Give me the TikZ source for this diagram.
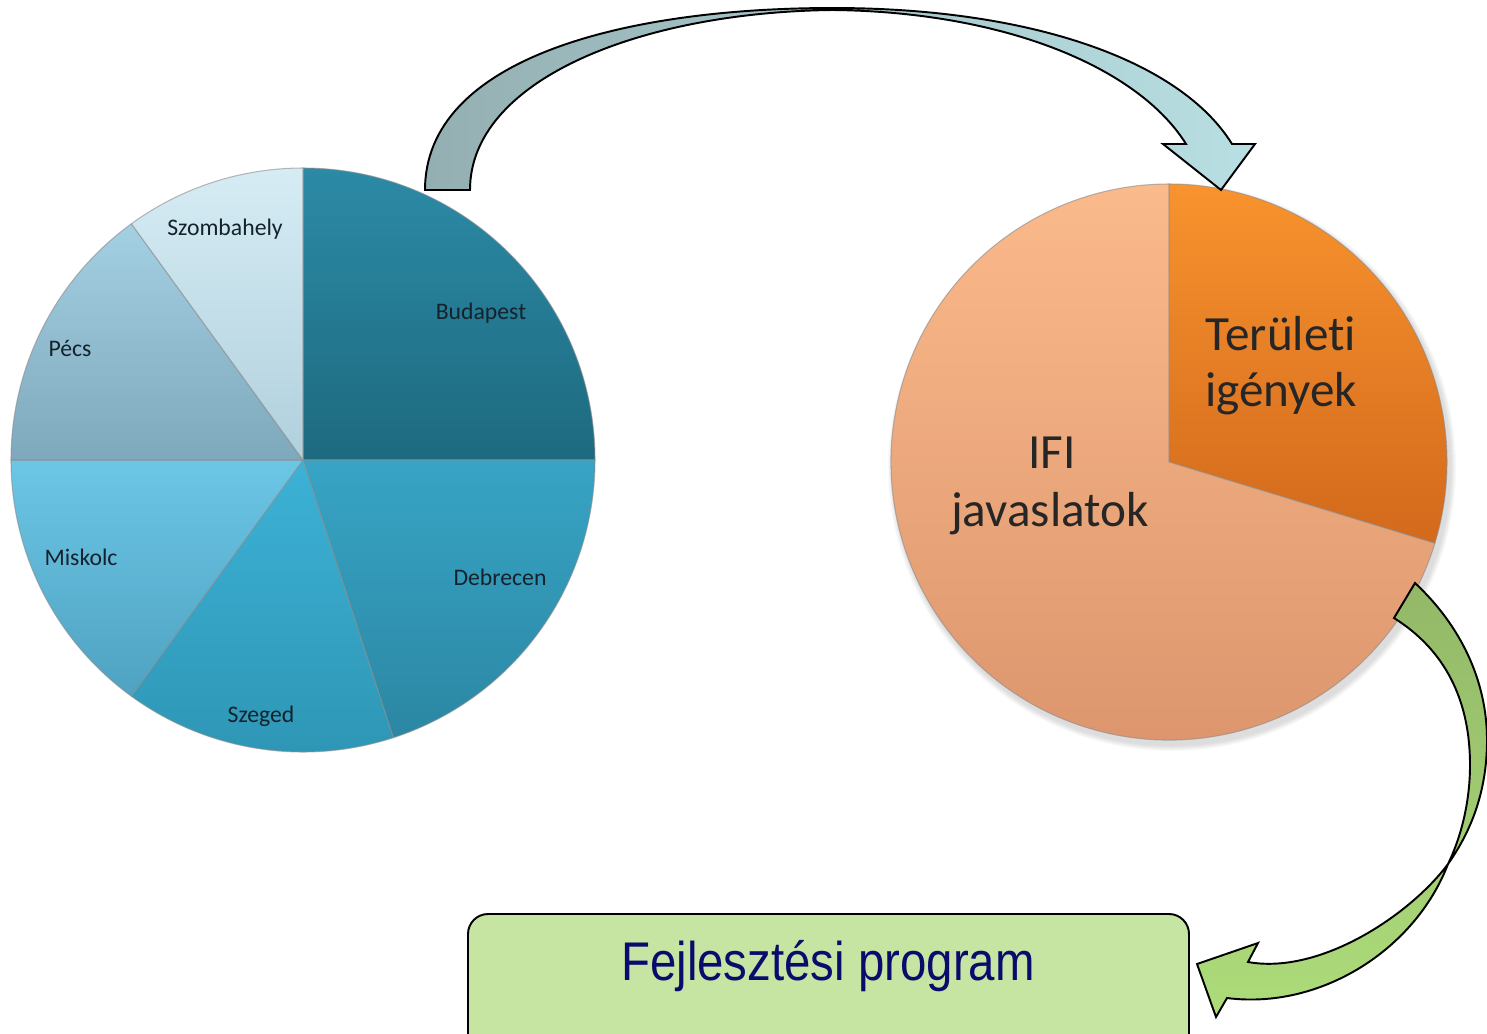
\documentclass[tikz,border=0pt]{standalone}
\usepackage{fontspec}
\setmainfont{Carlito}[Ligatures=NoCommon]
\newfontfamily\boxfont{Liberation Sans}
\definecolor{budatop}{HTML}{2C8AA6}
\definecolor{budabot}{HTML}{1D6A7F}
\definecolor{debrtop}{HTML}{38A4C5}
\definecolor{debrbot}{HTML}{2B87A3}
\definecolor{szegtop}{HTML}{3CB2D6}
\definecolor{szegbot}{HTML}{2E95B4}
\definecolor{misktop}{HTML}{6CC6E6}
\definecolor{miskbot}{HTML}{4FA2C1}
\definecolor{pecstop}{HTML}{A4D0E4}
\definecolor{pecsbot}{HTML}{7EA8BB}
\definecolor{szomtop}{HTML}{D6ECF4}
\definecolor{szombot}{HTML}{B0D0DD}
\definecolor{terutop}{HTML}{F8932E}
\definecolor{terubot}{HTML}{D2691C}
\definecolor{ifitop}{HTML}{FBBA8B}
\definecolor{ifibot}{HTML}{DB946C}
\definecolor{citytext}{HTML}{14222C}
\definecolor{arrowgrey}{HTML}{94AFB2}
\definecolor{arrowcyan}{HTML}{B8DFE3}
\definecolor{greentop}{HTML}{93B868}
\definecolor{greenbot}{HTML}{ADDC7A}
\definecolor{boxgreen}{HTML}{C6E5A3}
\definecolor{boxtext}{HTML}{0B0B6E}
\tikzset{
  slice/.style={draw=black!45, draw opacity=.6, line width=.6pt, line join=round},
  city/.style={text=citytext, font=\fontsize{13.5}{16}\selectfont, anchor=base},
  part/.style={text=black!85, font=\fontsize{28}{34}\selectfont, align=center, anchor=base},
  bandarrow/.style={draw=black, line width=1.1pt, line join=miter},
  progbox/.style={draw=black, line width=1.1pt, rounded corners=4mm, fill=boxgreen},
}
\begin{document}
\begin{tikzpicture}[x=.2mm, y=-.2mm]
	\clip (0,0) rectangle (1487,1033);
	% pie of the cities
	\coordinate (cities) at (303,460);
	\shade[slice, top color=budatop, bottom color=budabot] (cities) -- ++(-90:292) arc[start angle=-90, end angle=0,   radius=292] -- cycle;
	\shade[slice, top color=debrtop, bottom color=debrbot] (cities) -- ++(0:292)   arc[start angle=0,   end angle=72,  radius=292] -- cycle;
	\shade[slice, top color=szegtop, bottom color=szegbot] (cities) -- ++(72:292)  arc[start angle=72,  end angle=126, radius=292] -- cycle;
	\shade[slice, top color=misktop, bottom color=miskbot] (cities) -- ++(126:292) arc[start angle=126, end angle=180, radius=292] -- cycle;
	\shade[slice, top color=pecstop, bottom color=pecsbot] (cities) -- ++(180:292) arc[start angle=180, end angle=234, radius=292] -- cycle;
	\shade[slice, top color=szomtop, bottom color=szombot] (cities) -- ++(234:292) arc[start angle=234, end angle=270, radius=292] -- cycle;
	\node[city] (szombahely) at (225,235) {Szombahely};
	\node[city] (budapest)   at (481,319) {Budapest};
	\node[city] (pecs)       at (70,356)  {Pécs};
	\node[city] (miskolc)    at (81,565)  {Miskolc};
	\node[city] (debrecen)   at (500,585) {Debrecen};
	\node[city] (szeged)     at (261,722) {Szeged};
	% pie of the sources
	\coordinate (sources) at (1169,462);
	\foreach \s in {1,...,6}
		\fill[black, opacity=.025] (1172,467) circle[radius=278+\s];
	\shade[slice, top color=terutop, bottom color=terubot] (sources) -- ++(-90:278) arc[start angle=-90, end angle=17,  radius=278] -- cycle;
	\shade[slice, top color=ifitop,  bottom color=ifibot]  (sources) -- ++(17:278)  arc[start angle=17,  end angle=270, radius=278] -- cycle;
	\node[part] (teruleti) at (1281,350) {Terület\kern0pt i};
	\node[part] (igenyek)  at (1281,406) {igények};
	\node[part] (ifi)      at (1052,468) {IFI};
	\node[part] (javas)    at (1050,526) {javaslatok};
	% arrow over the top
	\shade[bandarrow, left color=arrowgrey, right color=arrowcyan]
		(425,190) .. controls (425,60) and (620,8) .. (833,8)
		.. controls (1030,8) and (1180,60) .. (1232,144)
		-- (1255,144) -- (1221,190) -- (1163,144) -- (1186,144)
		.. controls (1140,70) and (1010,12) .. (833,10)
		.. controls (640,12) and (470,80) .. (470,190) -- cycle;
	% arrow down to the program
	\shade[bandarrow, top color=greentop, bottom color=greenbot]
		(1415,583) .. controls (1460,625) and (1487,680) .. (1487,740)
		.. controls (1487,790) and (1472,830) .. (1448,864)
		.. controls (1410,915) and (1320,975) .. (1248,962)
		-- (1258,943) -- (1197,964) -- (1216,1017) -- (1227,998)
		.. controls (1320,1010) and (1415,950) .. (1448,864)
		.. controls (1462,835) and (1470,800) .. (1470,765)
		.. controls (1470,700) and (1445,650) .. (1394,618) -- cycle;
	% result
	\draw[progbox] (468,914) rectangle (1189,1060);
	\node[text=boxtext, font=\boxfont\fontsize{31}{36}\selectfont, anchor=base] (program) at (828,980) {\scalebox{.87}[1]{Fejlesztési program}};
\end{tikzpicture}
\end{document}
